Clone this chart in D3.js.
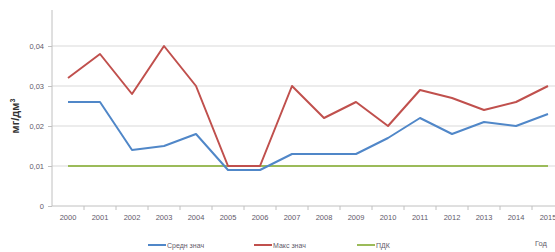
<!DOCTYPE html>
<html>
<head>
<meta charset="utf-8">
<script src="https://cdn.jsdelivr.net/npm/d3@7"></script>
<style>
  body { margin: 0; background: #fff; }
  svg { display: block; font-family: "Liberation Sans", Arial, sans-serif; }
</style>
</head>
<body>
<div id="chart"></div>
<script>
// data
const years = ["2000","2001","2002","2003","2004","2005","2006","2007","2008","2009","2010","2011","2012","2013","2014","2015"];
const avgValues = [0.026,0.026,0.014,0.015,0.018,0.009,0.009,0.013,0.013,0.013,0.017,0.022,0.018,0.021,0.020,0.023];
const maxValues = [0.032,0.038,0.028,0.040,0.030,0.010,0.010,0.030,0.022,0.026,0.020,0.029,0.027,0.024,0.026,0.030];
const pdkValues = [0.010,0.010,0.010,0.010,0.010,0.010,0.010,0.010,0.010,0.010,0.010,0.010,0.010,0.010,0.010,0.010];
const yTicks = [0, 0.01, 0.02, 0.03, 0.04];
const seriesNames = ["Средн знач", "Макс знач", "ПДК"];

const W = 555, H = 252;
const margin = { top: 10, left: 52 };
const plotW = 512, plotBottom = 206;

const svg = d3.select("#chart").append("svg")
    .attr("width", W)
    .attr("height", H);

// x is a band of years, lines go through band centres
const x = d3.scaleBand()
    .domain(years)
    .range([margin.left, margin.left + plotW]);

const y = d3.scaleLinear()
    .domain([0, 0.049])
    .range([plotBottom, margin.top]);

const fmt = d => d === 0 ? "0" : d3.format(".2f")(d).replace(".", ",");

// gridlines
svg.append("g")
    .selectAll("line")
    .data(yTicks.filter(d => d > 0))
    .join("line")
    .attr("x1", margin.left)
    .attr("x2", W)
    .attr("y1", d => y(d))
    .attr("y2", d => y(d))
    .attr("stroke", "#d9d9d9")
    .attr("stroke-width", 1);

// y axis
const yAxis = svg.append("g")
    .attr("transform", "translate(" + margin.left + ",0)")
    .call(d3.axisLeft(y).tickValues(yTicks).tickFormat(fmt).tickSize(4).tickPadding(4));
yAxis.select(".domain").attr("stroke", "#c0c0c0").attr("d", "M0," + margin.top + "V" + plotBottom);
yAxis.selectAll(".tick line").attr("stroke", "#c0c0c0");
yAxis.selectAll("text").attr("fill", "#5f5a6a").style("font-size", "7.5px");

// x axis with ticks between categories
const xAxis = svg.append("g")
    .attr("transform", "translate(0," + plotBottom + ")");
xAxis.append("line")
    .attr("x1", margin.left).attr("x2", W)
    .attr("stroke", "#c0c0c0");
xAxis.selectAll(".tk")
    .data(years)
    .join("line")
    .attr("class", "tk")
    .attr("x1", d => x(d) + x.bandwidth())
    .attr("x2", d => x(d) + x.bandwidth())
    .attr("y2", 4)
    .attr("stroke", "#c0c0c0");
xAxis.selectAll("text")
    .data(years)
    .join("text")
    .attr("x", d => x(d) + x.bandwidth() / 2)
    .attr("y", 14)
    .attr("text-anchor", "middle")
    .attr("fill", "#5f5a6a")
    .style("font-size", "7.5px")
    .text(d => d);

// lines
const colors = ["#5087c8", "#c0504d", "#9bbb59"];
const allSeries = [avgValues, maxValues, pdkValues];
const line = d3.line()
    .x((d, i) => x(years[i]) + x.bandwidth() / 2)
    .y(d => y(d));

// draw ПДК first so the others sit on top
[2, 0, 1].forEach(k => {
    svg.append("path")
        .datum(allSeries[k])
        .attr("fill", "none")
        .attr("stroke", colors[k])
        .attr("stroke-width", 2)
        .attr("stroke-linejoin", "round")
        .attr("d", line);
});

// y title
svg.append("text")
    .attr("transform", "translate(19,116) rotate(-90)")
    .attr("text-anchor", "middle")
    .style("font-size", "11px")
    .style("font-weight", "bold")
    .attr("fill", "#333")
    .html('мг/дм<tspan dy="-4" style="font-size:7px">3</tspan>');

// x title
svg.append("text")
    .attr("x", 535)
    .attr("y", 246)
    .attr("fill", "#5f5a6a")
    .style("font-size", "7.5px")
    .text("Год");

// legend
const legendX = [148, 254, 357];
const legend = svg.append("g")
    .selectAll("g")
    .data(seriesNames)
    .join("g")
    .attr("transform", (d, i) => "translate(" + legendX[i] + ",245)");
legend.append("line")
    .attr("x2", 18)
    .attr("stroke", (d, i) => colors[i])
    .attr("stroke-width", 2);
legend.append("text")
    .attr("x", 19)
    .attr("y", 2.5)
    .attr("fill", "#5f5a6a")
    .style("font-size", "7px")
    .text(d => d);
</script>
</body>
</html>
